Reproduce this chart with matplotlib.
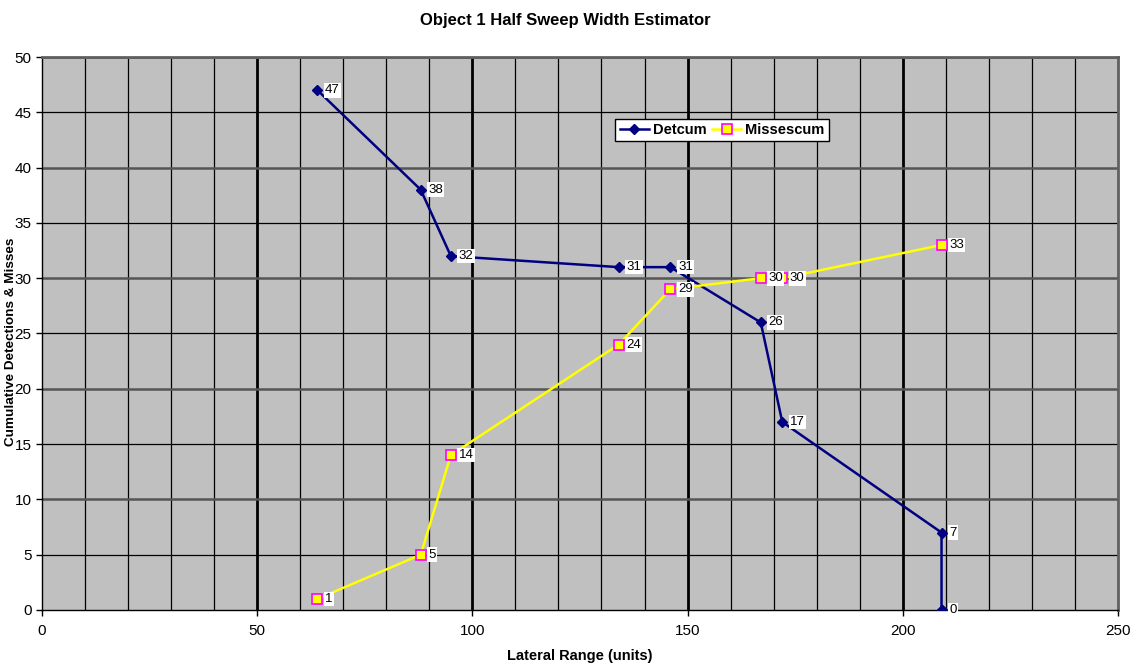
import matplotlib.pyplot as plt
from matplotlib.ticker import MultipleLocator

plt.rcParams['font.family'] = ['Liberation Sans', 'DejaVu Sans']

# data
lateral_range = [64, 88, 95, 134, 146, 167, 172, 209, 209, 209]
detcum = [47, 38, 32, 31, 31, 26, 17, 7, 0, 0]
miss_range = [64, 88, 95, 134, 146, 167, 172, 209]
missescum = [1, 5, 14, 24, 29, 30, 30, 33]

fig = plt.figure(figsize=(11.31, 6.66), dpi=100)
ax = fig.add_axes([0.0371, 0.0841, 0.9514, 0.8303])
ax.set_facecolor('#C0C0C0')

ax.set_xlim(0, 250)
ax.set_ylim(0, 50)

# grid: thin black every 10 on x, heavy at 50s; y minor every 5 black, major every 10 grey
for xv in range(10, 250, 10):
    if xv % 50 == 0:
        ax.axvline(xv, color='black', lw=2.0, zorder=1)
    else:
        ax.axvline(xv, color='black', lw=0.9, zorder=1)
for yv in range(5, 51, 5):
    if yv % 10 == 0:
        ax.axhline(yv, color='#555555', lw=1.8, zorder=1)
    else:
        ax.axhline(yv, color='black', lw=0.9, zorder=1)

ax.plot(lateral_range, detcum, color='#000080', lw=1.8, marker='D', ms=5,
        mfc='#000080', mec='#000080', label='Detcum', zorder=3)
ax.plot(miss_range, missescum, color='#FFFF00', lw=1.8, marker='s', ms=7,
        mfc='#FFFF00', mec='#FF00FF', mew=1.2, label='Missescum', zorder=4)

box = dict(boxstyle='square,pad=0.1', fc='white', ec='none')
for xv, yv in zip(lateral_range, detcum):
    ax.annotate(str(yv), (xv, yv), xytext=(5.5, 0), textcoords='offset points',
                ha='left', va='center', fontsize=9.5, bbox=box, zorder=5)
for xv, yv in zip(miss_range, missescum):
    ax.annotate(str(yv), (xv, yv), xytext=(5.5, 0), textcoords='offset points',
                ha='left', va='center', fontsize=9.5, bbox=box, zorder=5)

ax.xaxis.set_major_locator(MultipleLocator(50))
ax.yaxis.set_major_locator(MultipleLocator(5))
ax.tick_params(direction='out', length=4, labelsize=11, width=1)
ax.tick_params(axis='x', pad=6)
for s in ['left', 'bottom']:
    ax.spines[s].set_color('black')
    ax.spines[s].set_linewidth(1)
for s in ['top', 'right']:
    ax.spines[s].set_color('#606060')
    ax.spines[s].set_linewidth(2)

fig.text(0.5, 1 - 21 / 666, 'Object 1 Half Sweep Width Estimator', ha='center', va='center',
         fontsize=12, fontweight='bold')
ax.set_xlabel('Lateral Range (units)', fontsize=10.5, fontweight='bold')
ax.xaxis.set_label_coords(0.5, -0.083)
ax.xaxis.label.set_va('center')
ax.set_ylabel('Cumulative Detections & Misses', fontsize=9.7, fontweight='bold')
ax.yaxis.set_label_coords(-0.0288, 0.4855)
ax.yaxis.label.set_va('center')

leg = ax.legend(loc='center', bbox_to_anchor=(0.632, 0.868), ncol=2,
                frameon=True, fancybox=False, handlelength=2.0, columnspacing=0.4,
                handletextpad=0.27, borderpad=0.3, borderaxespad=0,
                prop={'weight': 'bold', 'size': 10.5})
leg.get_frame().set_edgecolor('black')
leg.get_frame().set_facecolor('white')
leg.get_frame().set_alpha(1)
leg.set_zorder(6)

fig.savefig('out.png', dpi=100)
